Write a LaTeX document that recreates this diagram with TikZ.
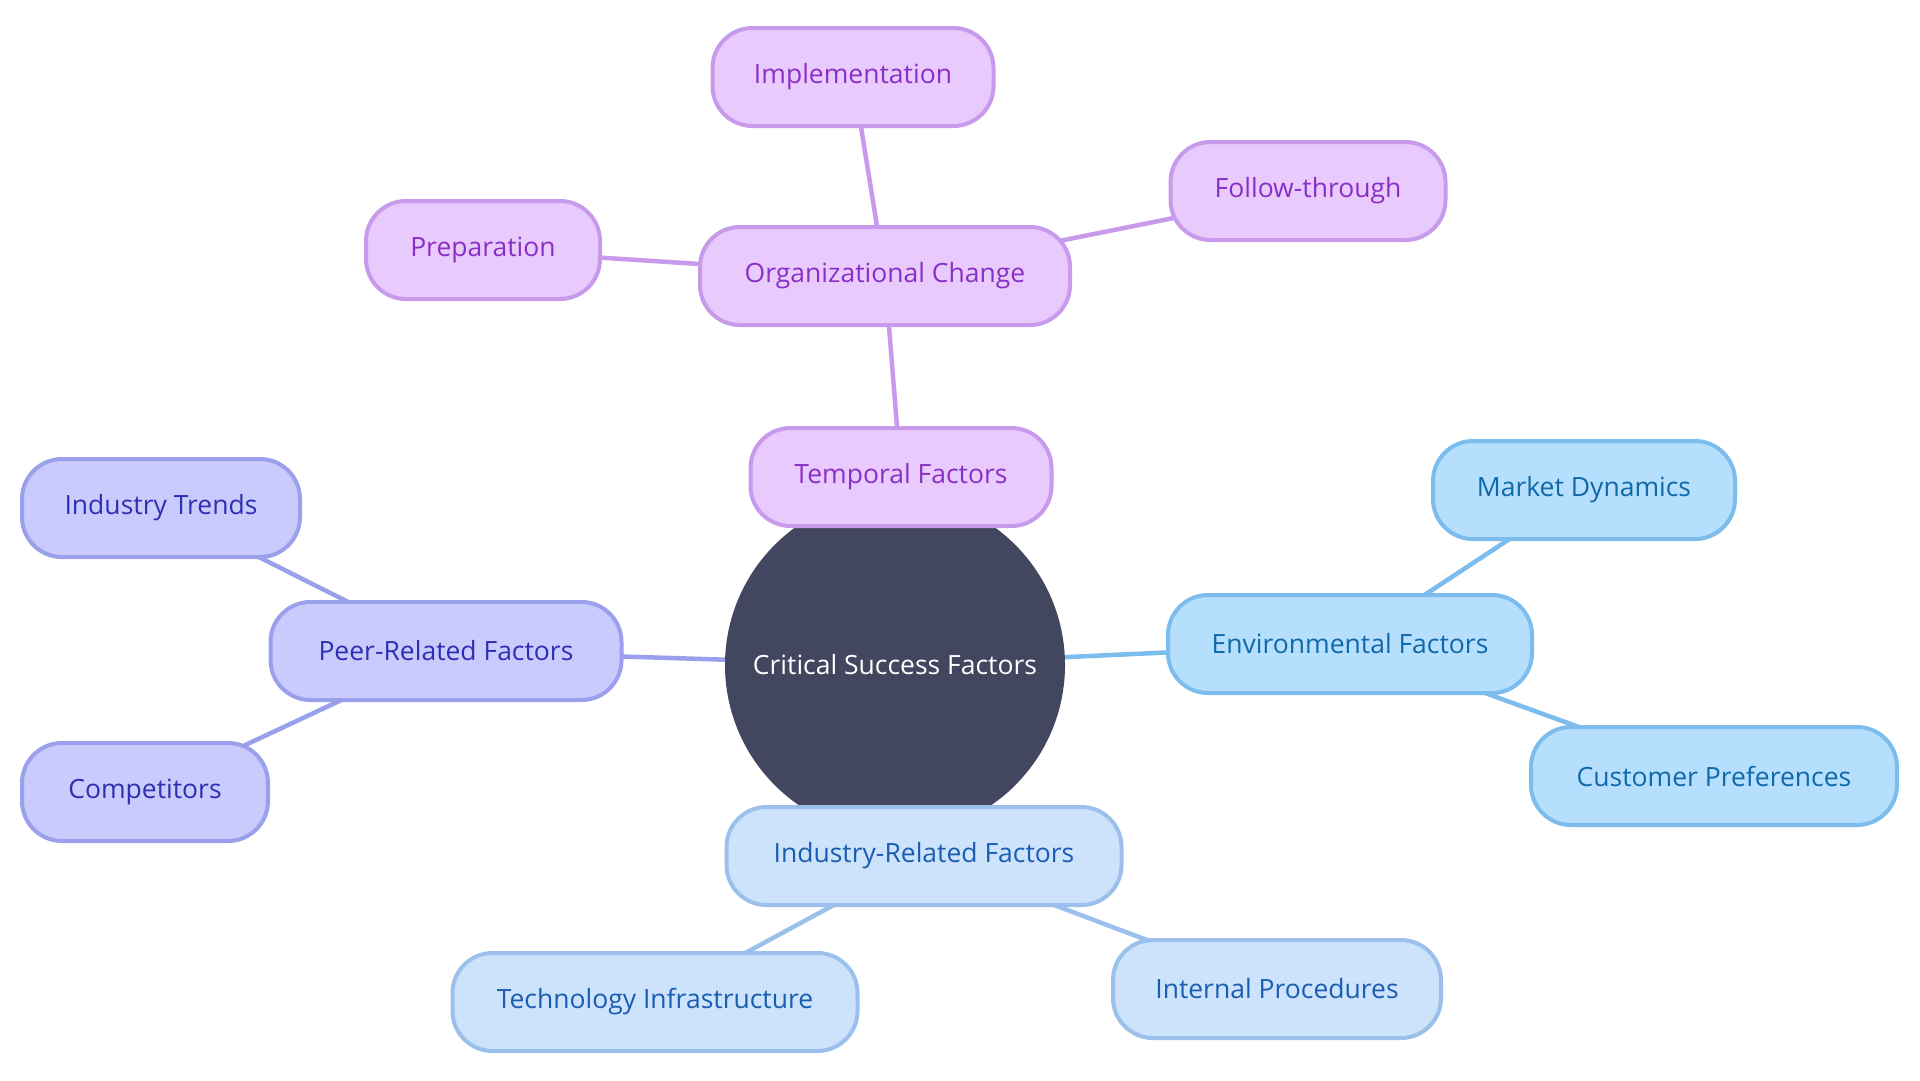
\documentclass[tikz,border=0pt]{standalone}
\usepackage{fontspec}
\setmainfont{Open Sans}
\usetikzlibrary{positioning}
\definecolor{rootc}{HTML}{42465E}
\definecolor{pfill}{HTML}{E8CAFD}
\definecolor{pline}{HTML}{C89AEC}
\definecolor{ptext}{HTML}{8A2FC6}
\definecolor{vfill}{HTML}{C8CBFB}
\definecolor{vline}{HTML}{9BA0EC}
\definecolor{vtext}{HTML}{2F2FB3}
\definecolor{sfill}{HTML}{B5DFFD}
\definecolor{sline}{HTML}{7DBDEE}
\definecolor{stext}{HTML}{0F69AA}
\definecolor{bfill}{HTML}{CDE2FB}
\definecolor{bline}{HTML}{9CC0EC}
\definecolor{btext}{HTML}{1A5EB3}
\pgfdeclarelayer{bg}
\pgfdeclarelayer{canvas}
\pgfsetlayers{canvas,bg,main}
\tikzset{
  box/.style={rounded corners=40pt, line width=4pt, minimum height=98pt, inner sep=0pt,
    font=\fontsize{26.5}{30}\selectfont},
  purp/.style={box, fill=pfill, draw=pline, text=ptext},
  viol/.style={box, fill=vfill, draw=vline, text=vtext},
  sky/.style={box, fill=sfill, draw=sline, text=stext},
  lblue/.style={box, fill=bfill, draw=bline, text=btext},
  conn/.style={line width=4.5pt},
}
\begin{document}
\begin{tikzpicture}[x=1pt,y=-1pt]
\begin{pgfonlayer}{canvas}
\fill[white] (0,0) rectangle (1920,1080);
\end{pgfonlayer}
\useasboundingbox (0,0) rectangle (1920,1080);
% root
\node[circle, fill=rootc, minimum size=340pt, inner sep=0pt, text=white,
  font=\fontsize{26.5}{30}\selectfont] (root) at (895,665) {Critical Success Factors};
% temporal branch
\node[purp, minimum width=301pt] (temp) at (901,477) {Temporal Factors};
\node[purp, minimum width=370pt] (org) at (885,276) {Organizational Change};
\node[purp, minimum width=281pt] (impl) at (853,77) {Implementation};
\node[purp, minimum width=275pt] (follow) at (1308,191) {Follow-through};
\node[purp, minimum width=234pt] (prep) at (483,250) {Preparation};
% peer branch
\node[viol, minimum width=351pt] (peer) at (446,651) {Peer-Related Factors};
\node[viol, minimum width=278pt] (trends) at (161,508) {Industry Trends};
\node[viol, minimum width=246pt] (comp) at (145,792) {Competitors};
% environmental branch
\node[sky, minimum width=364pt] (env) at (1350,644) {Environmental Factors};
\node[sky, minimum width=302pt] (market) at (1584,490) {Market Dynamics};
\node[sky, minimum width=366pt] (cust) at (1714,776) {Customer Preferences};
% industry branch
\node[lblue, minimum width=395pt] (ind) at (924,856) {Industry-Related Factors};
\node[lblue, minimum width=405pt] (tech) at (655,1002) {Technology Infrastructure};
\node[lblue, minimum width=328pt] (intp) at (1277,989) {Internal Procedures};
\begin{pgfonlayer}{bg}
\draw[conn, draw=pline] (root.center) -- (temp.center);
\draw[conn, draw=pline] (temp.center) -- (org.center);
\draw[conn, draw=pline] (org.center) -- (impl.center);
\draw[conn, draw=pline] (org.center) -- (follow.center);
\draw[conn, draw=pline] (org.center) -- (prep.center);
\draw[conn, draw=vline] (root.center) -- (peer.center);
\draw[conn, draw=vline] (peer.center) -- (trends.center);
\draw[conn, draw=vline] (peer.center) -- (comp.center);
\draw[conn, draw=sline] (root.center) -- (env.center);
\draw[conn, draw=sline] (env.center) -- (market.center);
\draw[conn, draw=sline] (env.center) -- (cust.center);
\draw[conn, draw=bline] (root.center) -- (ind.center);
\draw[conn, draw=bline] (ind.center) -- (tech.center);
\draw[conn, draw=bline] (ind.center) -- (intp.center);
\end{pgfonlayer}
\end{tikzpicture}
\end{document}
